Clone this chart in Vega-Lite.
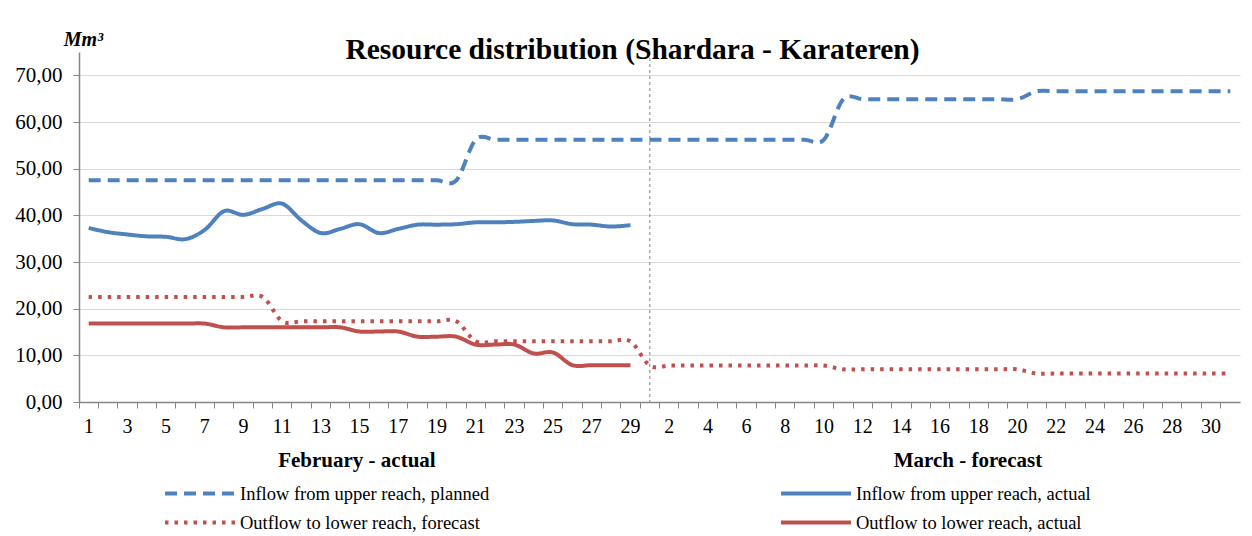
{
  "$schema": "https://vega.github.io/schema/vega-lite/v6.json",
  "width": 1161,
  "height": 350,
  "autosize": "none",
  "padding": {"left": 79, "top": 52, "right": 12, "bottom": 134},
  "background": "white",
  "config": {"font": "Liberation Serif", "view": {"stroke": null}},
  "title": {"text": "Resource distribution (Shardara - Karateren)", "font": "Liberation Serif", "fontSize": 29.5, "fontWeight": "bold", "color": "black", "anchor": "middle", "frame": "group", "dx": -27, "offset": -36},
  "datasets": {
    "series": [
      {"d": "02-01", "s": "Inflow from upper reach, planned", "v": 47.5}, {"d": "02-02", "s": "Inflow from upper reach, planned", "v": 47.5}, {"d": "02-03", "s": "Inflow from upper reach, planned", "v": 47.5}, {"d": "02-04", "s": "Inflow from upper reach, planned", "v": 47.5}, {"d": "02-05", "s": "Inflow from upper reach, planned", "v": 47.5}, {"d": "02-06", "s": "Inflow from upper reach, planned", "v": 47.5}, {"d": "02-07", "s": "Inflow from upper reach, planned", "v": 47.5}, {"d": "02-08", "s": "Inflow from upper reach, planned", "v": 47.5}, {"d": "02-09", "s": "Inflow from upper reach, planned", "v": 47.5}, {"d": "02-10", "s": "Inflow from upper reach, planned", "v": 47.5},
      {"d": "02-11", "s": "Inflow from upper reach, planned", "v": 47.5}, {"d": "02-12", "s": "Inflow from upper reach, planned", "v": 47.5}, {"d": "02-13", "s": "Inflow from upper reach, planned", "v": 47.5}, {"d": "02-14", "s": "Inflow from upper reach, planned", "v": 47.5}, {"d": "02-15", "s": "Inflow from upper reach, planned", "v": 47.5}, {"d": "02-16", "s": "Inflow from upper reach, planned", "v": 47.5}, {"d": "02-17", "s": "Inflow from upper reach, planned", "v": 47.5}, {"d": "02-18", "s": "Inflow from upper reach, planned", "v": 47.5}, {"d": "02-19", "s": "Inflow from upper reach, planned", "v": 47.5}, {"d": "02-20", "s": "Inflow from upper reach, planned", "v": 47.5},
      {"d": "02-21", "s": "Inflow from upper reach, planned", "v": 56.2}, {"d": "02-22", "s": "Inflow from upper reach, planned", "v": 56.2}, {"d": "02-23", "s": "Inflow from upper reach, planned", "v": 56.2}, {"d": "02-24", "s": "Inflow from upper reach, planned", "v": 56.2}, {"d": "02-25", "s": "Inflow from upper reach, planned", "v": 56.2}, {"d": "02-26", "s": "Inflow from upper reach, planned", "v": 56.2}, {"d": "02-27", "s": "Inflow from upper reach, planned", "v": 56.2}, {"d": "02-28", "s": "Inflow from upper reach, planned", "v": 56.2}, {"d": "02-29", "s": "Inflow from upper reach, planned", "v": 56.2},
      {"d": "03-01", "s": "Inflow from upper reach, planned", "v": 56.2}, {"d": "03-02", "s": "Inflow from upper reach, planned", "v": 56.2}, {"d": "03-03", "s": "Inflow from upper reach, planned", "v": 56.2}, {"d": "03-04", "s": "Inflow from upper reach, planned", "v": 56.2}, {"d": "03-05", "s": "Inflow from upper reach, planned", "v": 56.2}, {"d": "03-06", "s": "Inflow from upper reach, planned", "v": 56.2}, {"d": "03-07", "s": "Inflow from upper reach, planned", "v": 56.2}, {"d": "03-08", "s": "Inflow from upper reach, planned", "v": 56.2}, {"d": "03-09", "s": "Inflow from upper reach, planned", "v": 56.2}, {"d": "03-10", "s": "Inflow from upper reach, planned", "v": 56.2},
      {"d": "03-11", "s": "Inflow from upper reach, planned", "v": 64.9}, {"d": "03-12", "s": "Inflow from upper reach, planned", "v": 64.9}, {"d": "03-13", "s": "Inflow from upper reach, planned", "v": 64.9}, {"d": "03-14", "s": "Inflow from upper reach, planned", "v": 64.9}, {"d": "03-15", "s": "Inflow from upper reach, planned", "v": 64.9}, {"d": "03-16", "s": "Inflow from upper reach, planned", "v": 64.9}, {"d": "03-17", "s": "Inflow from upper reach, planned", "v": 64.9}, {"d": "03-18", "s": "Inflow from upper reach, planned", "v": 64.9}, {"d": "03-19", "s": "Inflow from upper reach, planned", "v": 64.9}, {"d": "03-20", "s": "Inflow from upper reach, planned", "v": 64.9},
      {"d": "03-21", "s": "Inflow from upper reach, planned", "v": 66.6}, {"d": "03-22", "s": "Inflow from upper reach, planned", "v": 66.6}, {"d": "03-23", "s": "Inflow from upper reach, planned", "v": 66.6}, {"d": "03-24", "s": "Inflow from upper reach, planned", "v": 66.6}, {"d": "03-25", "s": "Inflow from upper reach, planned", "v": 66.6}, {"d": "03-26", "s": "Inflow from upper reach, planned", "v": 66.6}, {"d": "03-27", "s": "Inflow from upper reach, planned", "v": 66.6}, {"d": "03-28", "s": "Inflow from upper reach, planned", "v": 66.6}, {"d": "03-29", "s": "Inflow from upper reach, planned", "v": 66.6}, {"d": "03-30", "s": "Inflow from upper reach, planned", "v": 66.6}, {"d": "03-31", "s": "Inflow from upper reach, planned", "v": 66.6},

      {"d": "02-01", "s": "Inflow from upper reach, actual", "v": 37.3}, {"d": "02-02", "s": "Inflow from upper reach, actual", "v": 36.4}, {"d": "02-03", "s": "Inflow from upper reach, actual", "v": 35.9}, {"d": "02-04", "s": "Inflow from upper reach, actual", "v": 35.5}, {"d": "02-05", "s": "Inflow from upper reach, actual", "v": 35.4}, {"d": "02-06", "s": "Inflow from upper reach, actual", "v": 34.9}, {"d": "02-07", "s": "Inflow from upper reach, actual", "v": 36.9}, {"d": "02-08", "s": "Inflow from upper reach, actual", "v": 40.9}, {"d": "02-09", "s": "Inflow from upper reach, actual", "v": 40.1}, {"d": "02-10", "s": "Inflow from upper reach, actual", "v": 41.4},
      {"d": "02-11", "s": "Inflow from upper reach, actual", "v": 42.5}, {"d": "02-12", "s": "Inflow from upper reach, actual", "v": 38.9}, {"d": "02-13", "s": "Inflow from upper reach, actual", "v": 36.2}, {"d": "02-14", "s": "Inflow from upper reach, actual", "v": 37.1}, {"d": "02-15", "s": "Inflow from upper reach, actual", "v": 38.1}, {"d": "02-16", "s": "Inflow from upper reach, actual", "v": 36.2}, {"d": "02-17", "s": "Inflow from upper reach, actual", "v": 37.1}, {"d": "02-18", "s": "Inflow from upper reach, actual", "v": 38.0}, {"d": "02-19", "s": "Inflow from upper reach, actual", "v": 38.0}, {"d": "02-20", "s": "Inflow from upper reach, actual", "v": 38.1},
      {"d": "02-21", "s": "Inflow from upper reach, actual", "v": 38.5}, {"d": "02-22", "s": "Inflow from upper reach, actual", "v": 38.5}, {"d": "02-23", "s": "Inflow from upper reach, actual", "v": 38.6}, {"d": "02-24", "s": "Inflow from upper reach, actual", "v": 38.8}, {"d": "02-25", "s": "Inflow from upper reach, actual", "v": 38.9}, {"d": "02-26", "s": "Inflow from upper reach, actual", "v": 38.1}, {"d": "02-27", "s": "Inflow from upper reach, actual", "v": 38.0}, {"d": "02-28", "s": "Inflow from upper reach, actual", "v": 37.6}, {"d": "02-29", "s": "Inflow from upper reach, actual", "v": 37.9},

      {"d": "02-01", "s": "Outflow to lower reach, forecast", "v": 22.5}, {"d": "02-02", "s": "Outflow to lower reach, forecast", "v": 22.5}, {"d": "02-03", "s": "Outflow to lower reach, forecast", "v": 22.5}, {"d": "02-04", "s": "Outflow to lower reach, forecast", "v": 22.5}, {"d": "02-05", "s": "Outflow to lower reach, forecast", "v": 22.5}, {"d": "02-06", "s": "Outflow to lower reach, forecast", "v": 22.5}, {"d": "02-07", "s": "Outflow to lower reach, forecast", "v": 22.5}, {"d": "02-08", "s": "Outflow to lower reach, forecast", "v": 22.5}, {"d": "02-09", "s": "Outflow to lower reach, forecast", "v": 22.5}, {"d": "02-10", "s": "Outflow to lower reach, forecast", "v": 22.5},
      {"d": "02-11", "s": "Outflow to lower reach, forecast", "v": 17.3}, {"d": "02-12", "s": "Outflow to lower reach, forecast", "v": 17.3}, {"d": "02-13", "s": "Outflow to lower reach, forecast", "v": 17.3}, {"d": "02-14", "s": "Outflow to lower reach, forecast", "v": 17.3}, {"d": "02-15", "s": "Outflow to lower reach, forecast", "v": 17.3}, {"d": "02-16", "s": "Outflow to lower reach, forecast", "v": 17.3}, {"d": "02-17", "s": "Outflow to lower reach, forecast", "v": 17.3}, {"d": "02-18", "s": "Outflow to lower reach, forecast", "v": 17.3}, {"d": "02-19", "s": "Outflow to lower reach, forecast", "v": 17.3}, {"d": "02-20", "s": "Outflow to lower reach, forecast", "v": 17.3},
      {"d": "02-21", "s": "Outflow to lower reach, forecast", "v": 13.0}, {"d": "02-22", "s": "Outflow to lower reach, forecast", "v": 13.0}, {"d": "02-23", "s": "Outflow to lower reach, forecast", "v": 13.0}, {"d": "02-24", "s": "Outflow to lower reach, forecast", "v": 13.0}, {"d": "02-25", "s": "Outflow to lower reach, forecast", "v": 13.0}, {"d": "02-26", "s": "Outflow to lower reach, forecast", "v": 13.0}, {"d": "02-27", "s": "Outflow to lower reach, forecast", "v": 13.0}, {"d": "02-28", "s": "Outflow to lower reach, forecast", "v": 13.0}, {"d": "02-29", "s": "Outflow to lower reach, forecast", "v": 13.0},
      {"d": "03-01", "s": "Outflow to lower reach, forecast", "v": 7.8}, {"d": "03-02", "s": "Outflow to lower reach, forecast", "v": 7.8}, {"d": "03-03", "s": "Outflow to lower reach, forecast", "v": 7.8}, {"d": "03-04", "s": "Outflow to lower reach, forecast", "v": 7.8}, {"d": "03-05", "s": "Outflow to lower reach, forecast", "v": 7.8}, {"d": "03-06", "s": "Outflow to lower reach, forecast", "v": 7.8}, {"d": "03-07", "s": "Outflow to lower reach, forecast", "v": 7.8}, {"d": "03-08", "s": "Outflow to lower reach, forecast", "v": 7.8}, {"d": "03-09", "s": "Outflow to lower reach, forecast", "v": 7.8}, {"d": "03-10", "s": "Outflow to lower reach, forecast", "v": 7.8},
      {"d": "03-11", "s": "Outflow to lower reach, forecast", "v": 7.0}, {"d": "03-12", "s": "Outflow to lower reach, forecast", "v": 7.0}, {"d": "03-13", "s": "Outflow to lower reach, forecast", "v": 7.0}, {"d": "03-14", "s": "Outflow to lower reach, forecast", "v": 7.0}, {"d": "03-15", "s": "Outflow to lower reach, forecast", "v": 7.0}, {"d": "03-16", "s": "Outflow to lower reach, forecast", "v": 7.0}, {"d": "03-17", "s": "Outflow to lower reach, forecast", "v": 7.0}, {"d": "03-18", "s": "Outflow to lower reach, forecast", "v": 7.0}, {"d": "03-19", "s": "Outflow to lower reach, forecast", "v": 7.0}, {"d": "03-20", "s": "Outflow to lower reach, forecast", "v": 7.0},
      {"d": "03-21", "s": "Outflow to lower reach, forecast", "v": 6.1}, {"d": "03-22", "s": "Outflow to lower reach, forecast", "v": 6.1}, {"d": "03-23", "s": "Outflow to lower reach, forecast", "v": 6.1}, {"d": "03-24", "s": "Outflow to lower reach, forecast", "v": 6.1}, {"d": "03-25", "s": "Outflow to lower reach, forecast", "v": 6.1}, {"d": "03-26", "s": "Outflow to lower reach, forecast", "v": 6.1}, {"d": "03-27", "s": "Outflow to lower reach, forecast", "v": 6.1}, {"d": "03-28", "s": "Outflow to lower reach, forecast", "v": 6.1}, {"d": "03-29", "s": "Outflow to lower reach, forecast", "v": 6.1}, {"d": "03-30", "s": "Outflow to lower reach, forecast", "v": 6.1}, {"d": "03-31", "s": "Outflow to lower reach, forecast", "v": 6.1},

      {"d": "02-01", "s": "Outflow to lower reach, actual", "v": 16.8}, {"d": "02-02", "s": "Outflow to lower reach, actual", "v": 16.8}, {"d": "02-03", "s": "Outflow to lower reach, actual", "v": 16.8}, {"d": "02-04", "s": "Outflow to lower reach, actual", "v": 16.8}, {"d": "02-05", "s": "Outflow to lower reach, actual", "v": 16.8}, {"d": "02-06", "s": "Outflow to lower reach, actual", "v": 16.8}, {"d": "02-07", "s": "Outflow to lower reach, actual", "v": 16.8}, {"d": "02-08", "s": "Outflow to lower reach, actual", "v": 16.0}, {"d": "02-09", "s": "Outflow to lower reach, actual", "v": 16.0}, {"d": "02-10", "s": "Outflow to lower reach, actual", "v": 16.0},
      {"d": "02-11", "s": "Outflow to lower reach, actual", "v": 16.0}, {"d": "02-12", "s": "Outflow to lower reach, actual", "v": 16.0}, {"d": "02-13", "s": "Outflow to lower reach, actual", "v": 16.0}, {"d": "02-14", "s": "Outflow to lower reach, actual", "v": 16.0}, {"d": "02-15", "s": "Outflow to lower reach, actual", "v": 15.1}, {"d": "02-16", "s": "Outflow to lower reach, actual", "v": 15.1}, {"d": "02-17", "s": "Outflow to lower reach, actual", "v": 15.1}, {"d": "02-18", "s": "Outflow to lower reach, actual", "v": 14.0}, {"d": "02-19", "s": "Outflow to lower reach, actual", "v": 14.0}, {"d": "02-20", "s": "Outflow to lower reach, actual", "v": 14.0},
      {"d": "02-21", "s": "Outflow to lower reach, actual", "v": 12.3}, {"d": "02-22", "s": "Outflow to lower reach, actual", "v": 12.3}, {"d": "02-23", "s": "Outflow to lower reach, actual", "v": 12.3}, {"d": "02-24", "s": "Outflow to lower reach, actual", "v": 10.4}, {"d": "02-25", "s": "Outflow to lower reach, actual", "v": 10.6}, {"d": "02-26", "s": "Outflow to lower reach, actual", "v": 7.9}, {"d": "02-27", "s": "Outflow to lower reach, actual", "v": 7.9}, {"d": "02-28", "s": "Outflow to lower reach, actual", "v": 7.9}, {"d": "02-29", "s": "Outflow to lower reach, actual", "v": 7.9}
    ]
  },
  "layer": [
    {
      "data": {"values": [{"d": "03-01"}]},
      "mark": {"type": "rule", "strokeDash": [3, 3], "color": "#7f7f7f", "strokeWidth": 1},
      "encoding": {"x": {"field": "d", "type": "ordinal"}}
    },
    {
      "data": {"name": "series"},
      "mark": {"type": "line", "interpolate": "cardinal", "strokeWidth": 4},
      "encoding": {
        "x": {
          "field": "d", "type": "ordinal",
          "scale": {"type": "band", "paddingInner": 0, "paddingOuter": 0},
          "axis": {
            "title": null, "bandPosition": 0, "tickSize": 6, "tickColor": "#868686", "domainColor": "#868686", "domainWidth": 1.5,
            "labelAngle": 0, "labelAlign": "center", "labelFont": "Liberation Serif", "labelColor": "black", "labelOverlap": false, "labelBound": false, "labelFlush": false,
            "labelExpr": "datum.value == '02-16' ? 'February - actual' : datum.value == '03-17' ? 'March - forecast' : ((slice(datum.value,0,2) == '02') == (toNumber(slice(datum.value,3)) % 2 == 1) ? '' + toNumber(slice(datum.value,3)) : '')",
            "labelFontWeight": {"condition": {"test": "datum.value == '02-16' || datum.value == '03-17'", "value": "bold"}, "value": "normal"},
            "labelFontSize": {"condition": {"test": "datum.value == '02-16' || datum.value == '03-17'", "value": 21}, "value": 20},
            "labelPadding": {"condition": {"test": "datum.value == '02-16' || datum.value == '03-17'", "value": 52}, "value": 18},
            "labelOffset": {"condition": [{"test": "datum.value == '02-16'", "value": -22}, {"test": "datum.value == '03-17'", "value": 8.5}], "value": 0}
          }
        },
        "y": {
          "field": "v", "type": "quantitative",
          "scale": {"domain": [0, 75], "nice": false},
          "axis": {
            "title": "Mm³", "titleAngle": 0, "titleAlign": "center", "titleBaseline": "alphabetic", "titleX": 4, "titleY": -7,
            "titleFont": "Liberation Serif", "titleFontSize": 20, "titleFontStyle": "italic", "titleFontWeight": "bold", "titleColor": "black",
            "values": [0, 10, 20, 30, 40, 50, 60, 70],
            "labelExpr": "replace(format(datum.value, '.2f'), '.', ',')",
            "labelFont": "Liberation Serif", "labelFontSize": 21, "labelColor": "black", "labelPadding": 11,
            "tickSize": 6, "tickColor": "#868686", "domainColor": "#868686", "domainWidth": 1.5,
            "grid": true, "gridColor": "#d9d9d9"
          }
        },
        "color": {
          "field": "s", "type": "nominal",
          "scale": {"domain": ["Inflow from upper reach, planned", "Inflow from upper reach, actual", "Outflow to lower reach, forecast", "Outflow to lower reach, actual"], "range": ["#4f81bd", "#4f81bd", "#c0504d", "#c0504d"]},
          "legend": {"orient": "none", "direction": "horizontal", "legendX": 84, "legendY": 422, "columns": 2, "columnPadding": 283, "rowPadding": 0, "symbolType": "M-1,0H3", "symbolSize": 1225, "symbolStrokeWidth": 4, "labelFont": "Liberation Serif", "labelFontSize": 18.5, "labelColor": "black", "labelLimit": 400, "labelOffset": 38, "title": null}
        },
        "strokeDash": {
          "field": "s", "type": "nominal",
          "scale": {"domain": ["Inflow from upper reach, planned", "Inflow from upper reach, actual", "Outflow to lower reach, forecast", "Outflow to lower reach, actual"], "range": [[12, 7], [1, 0], [3.5, 6], [1, 0]]},
          "legend": {"orient": "none", "direction": "horizontal", "legendX": 84, "legendY": 422, "columns": 2, "columnPadding": 283, "rowPadding": 0, "symbolType": "M-1,0H3", "symbolSize": 1225, "symbolStrokeWidth": 4, "labelFont": "Liberation Serif", "labelFontSize": 18.5, "labelColor": "black", "labelLimit": 400, "labelOffset": 38, "title": null}
        }
      }
    }
  ]
}
